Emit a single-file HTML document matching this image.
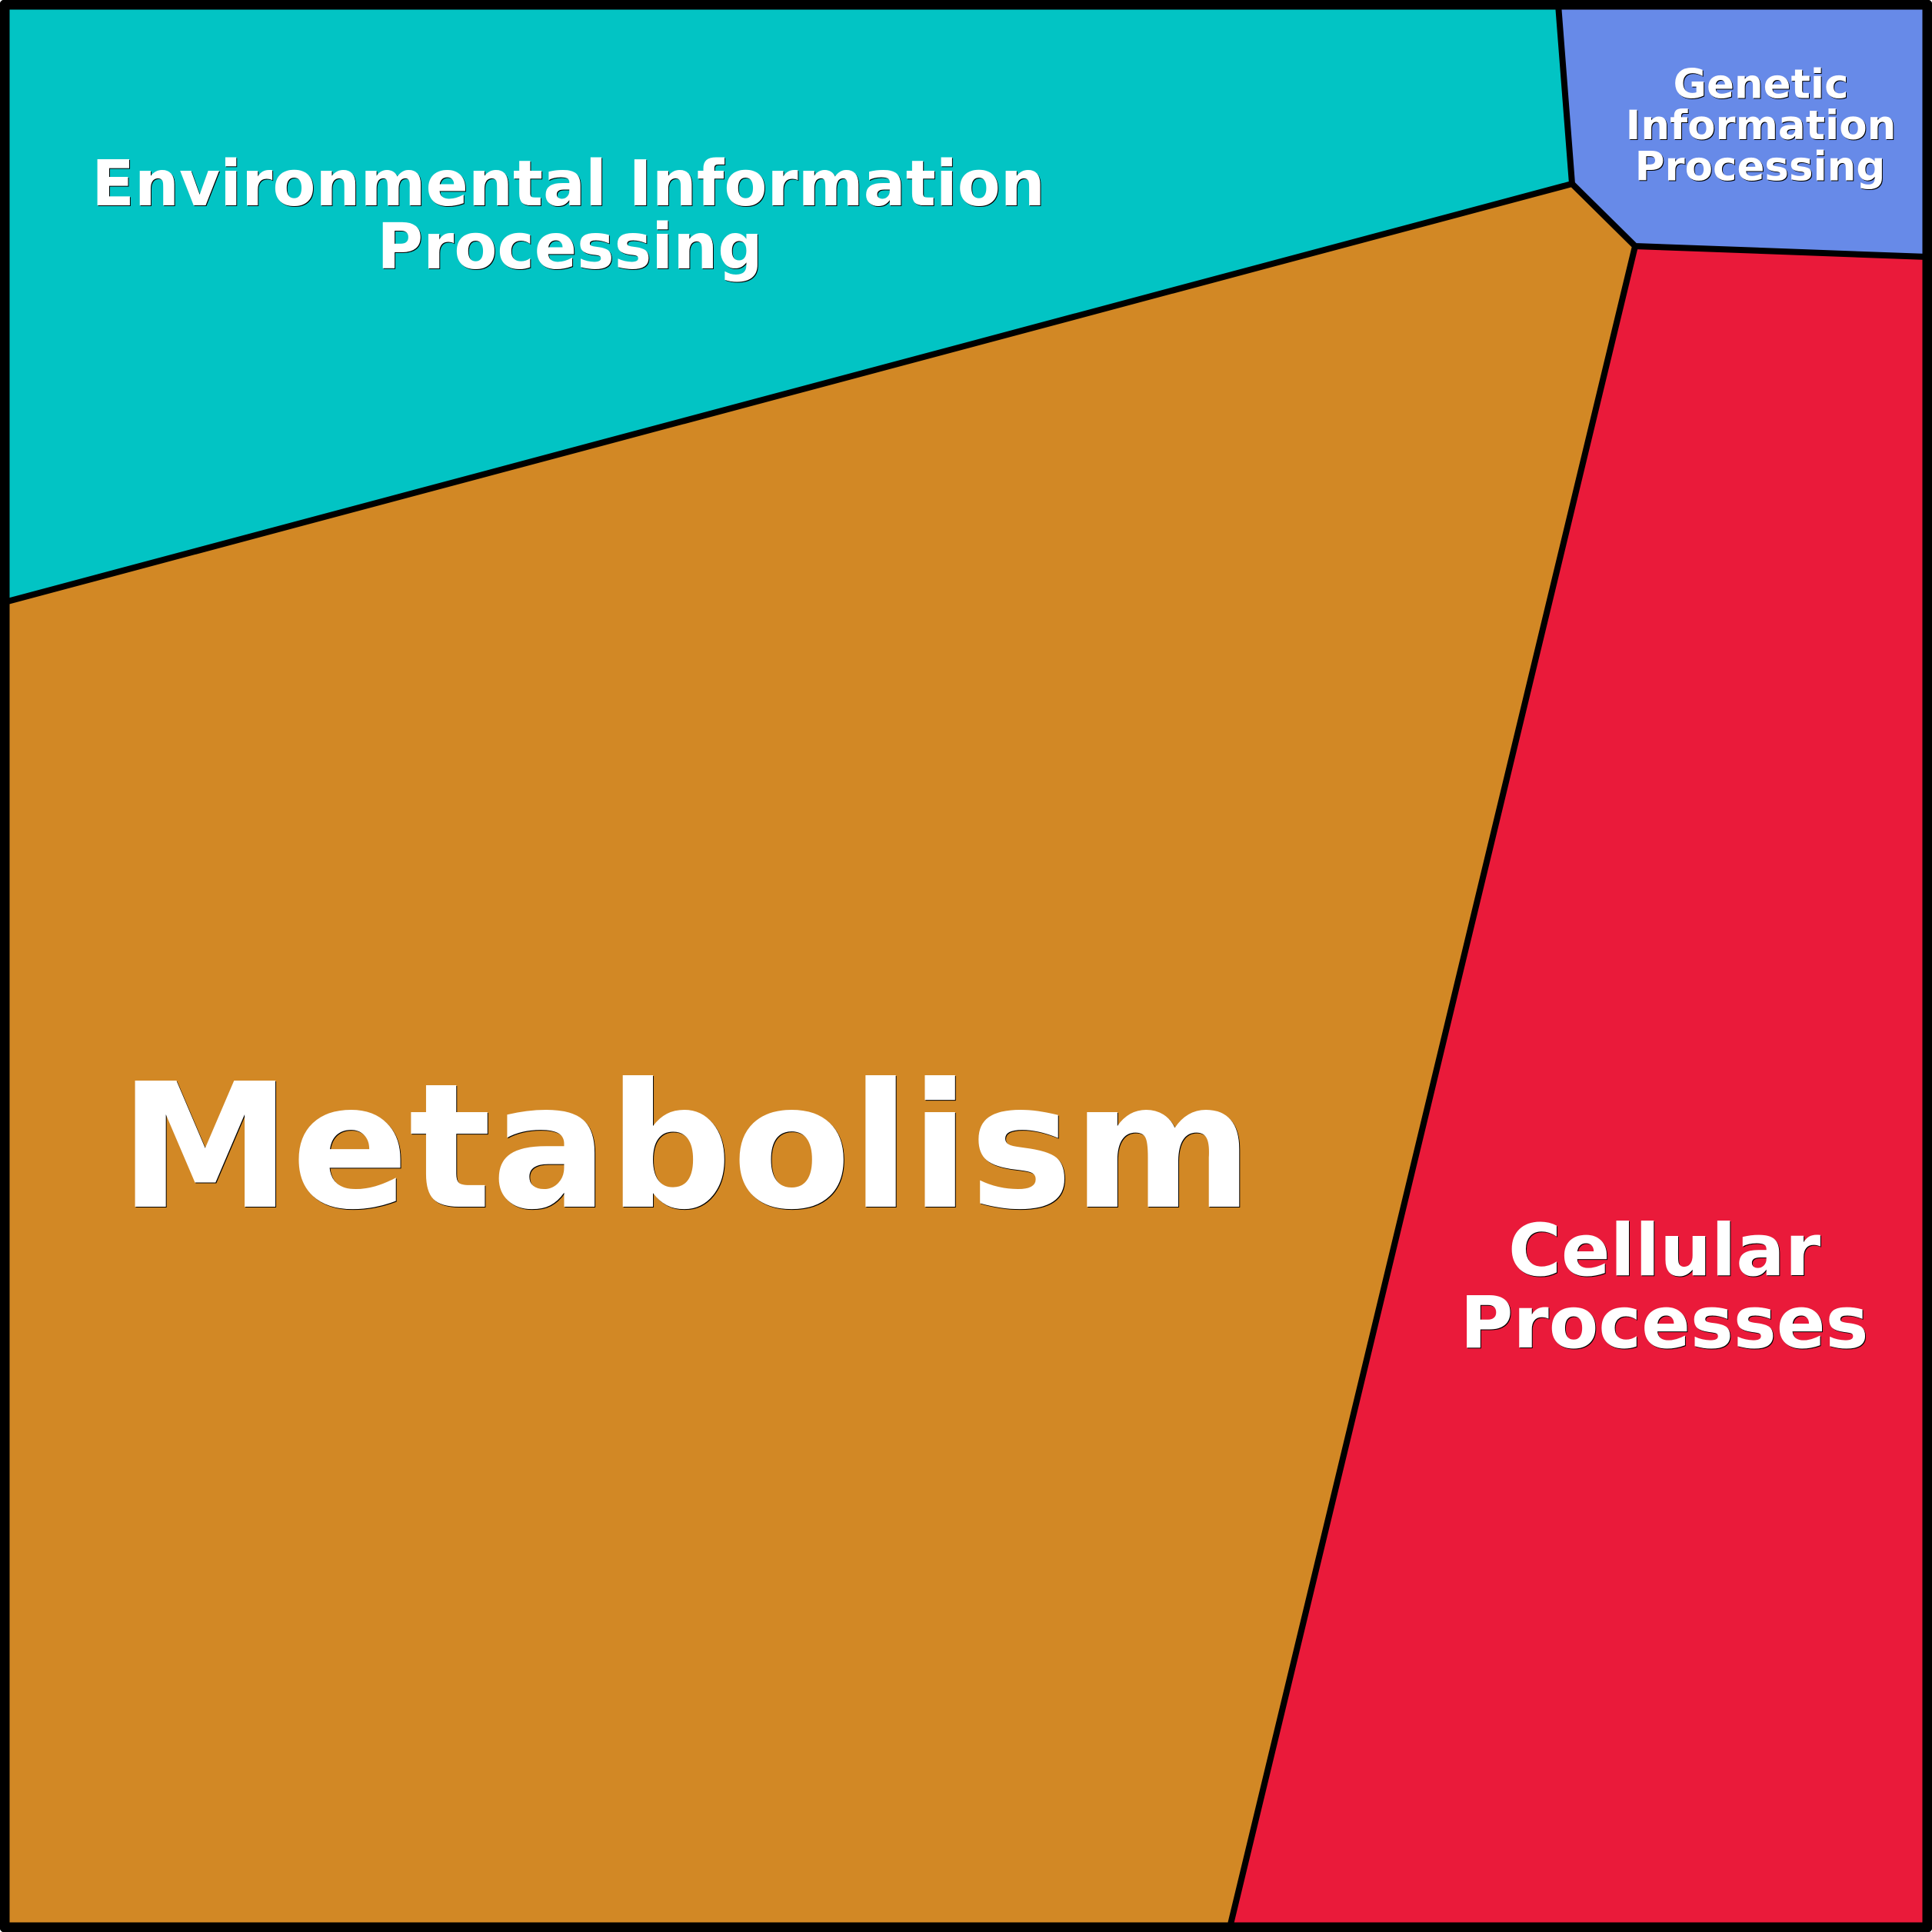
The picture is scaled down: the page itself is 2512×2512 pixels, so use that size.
<!DOCTYPE html>
<html><head><meta charset="utf-8"><style>
html,body{margin:0;padding:0;background:#fff}
svg{display:block}
text{font-family:"DejaVu Sans",sans-serif;font-weight:700;fill:#fff;text-anchor:middle;filter:drop-shadow(1px 1px 0 #000)}
</style></head><body>
<svg width="2512" height="2512" viewBox="0 0 2512 2512" xmlns="http://www.w3.org/2000/svg">
<polygon points="6,6 2027,6 2044,239 6,783" fill="#02c4c4"/>
<polygon points="2027,6 2506,6 2506,334 2126,320 2044,239" fill="#678ae8"/>
<polygon points="6,783 2044,239 2126,320 1599,2506 6,2506" fill="#d28825"/>
<polygon points="2126,320 2506,334 2506,2506 1599,2506" fill="#ea1a3a"/>
<g fill="none" stroke="#000" stroke-width="8" stroke-linejoin="miter">
<polyline points="6,783 2044,239 2126,320 2506,334"/>
<line x1="2026" y1="6" x2="2044" y2="239"/>
<line x1="2126" y1="320" x2="1599" y2="2506"/>
</g>
<rect x="6" y="6" width="2500" height="2500" fill="none" stroke="#000" stroke-width="13" stroke-linejoin="round"/>
<text x="739" y="267" font-size="81.6">Environmental Information</text>
<text x="741" y="349" font-size="81.6">Processing</text>
<text x="2289.5" y="127.5" font-size="53">Genetic</text>
<text x="2289.5" y="181" font-size="53">Information</text>
<text x="2288.5" y="234.5" font-size="53">Processing</text>
<text x="2164" y="1658" font-size="94">Cellular</text>
<text x="2164" y="1752" font-size="94">Processes</text>
<text x="892" y="1569" font-size="225">Metabolism</text>
</svg>
</body></html>
